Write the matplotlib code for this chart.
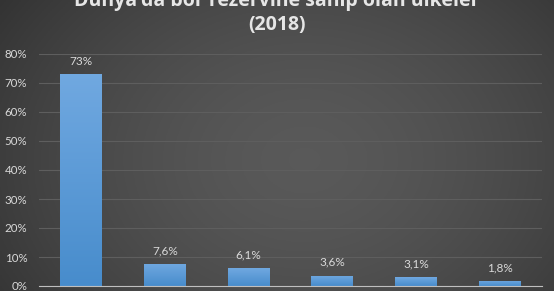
import numpy as np
import matplotlib
matplotlib.use('Agg')
import matplotlib.pyplot as plt

# veriler
ulkeler = ['Türkiye', 'Rusya', 'ABD', 'Çin', 'Şili', 'Peru']
oranlar = [0.73, 0.076, 0.061, 0.036, 0.031, 0.018]
etiketler = ['73%', '7,6%', '6,1%', '3,6%', '3,1%', '1,8%']
yticks = [0, 0.1, 0.2, 0.3, 0.4, 0.5, 0.6, 0.7, 0.8]
baslik1 = "Dünya'da bor rezervine sahip olan ülkeler"
baslik2 = "(2018)"

fig = plt.figure(figsize=(5.54, 2.91), dpi=100)

# arka plan gradyan
bg = fig.add_axes([0, 0, 1, 1], zorder=-10)
xx, yy = np.meshgrid(np.linspace(0, 1, 300), np.linspace(0, 1, 160))
r = np.sqrt(((xx - 0.55) / 0.75) ** 2 + ((yy - 0.45) / 1.1) ** 2)
g = 0.35 - 0.18 * np.clip(r, 0, 1) ** 1.6
img = np.dstack([g, g, g])
bg.imshow(img, aspect='auto', extent=[0, 1, 0, 1], origin='lower')
bg.axis('off')

ax = fig.add_axes([39 / 554, 5 / 291, 503 / 554, 232 / 291])
ax.patch.set_alpha(0)
x = np.arange(len(ulkeler))
bars = ax.bar(x, oranlar, width=0.5, color='#5b9bd5', zorder=3)

# cubuklara dikey gradyan
grad = np.linspace(0, 1, 100).reshape(-1, 1)
top = np.array([0.44, 0.66, 0.88])
bot = np.array([0.28, 0.55, 0.80])
gimg = bot + (top - bot) * grad[:, :, None]
for b in bars:
    x0, y0 = b.get_x(), b.get_y()
    im = ax.imshow(gimg, aspect='auto', origin='lower',
                   extent=[x0, x0 + b.get_width(), y0, y0 + b.get_height()],
                   zorder=4)
    im.set_clip_path(b)

for xi, v, lab in zip(x, oranlar, etiketler):
    ax.annotate(lab, (xi, v), xytext=(0, 5.5), textcoords='offset points',
                ha='center', va='bottom', color='#d9d9d9', fontsize=8.5,
                family='Lato')

ax.set_xlim(-0.5, len(ulkeler) - 0.5)
ax.set_ylim(0, 0.8)
ax.set_yticks(yticks)
ax.set_yticklabels(['{:.0f}%'.format(t * 100) for t in yticks])
ax.set_xticks(x)
ax.tick_params(axis='x', length=0, labelbottom=False)
ax.tick_params(axis='y', length=0, pad=8.5, colors='#d9d9d9', labelsize=8.3)
for t in ax.get_yticklabels():
    t.set_family('Lato')
ax.grid(axis='y', color='#5e5e5e', linewidth=0.8, zorder=0)
for s in ['top', 'right', 'left']:
    ax.spines[s].set_visible(False)
ax.spines['bottom'].set_color('#bfbfbf')
ax.spines['bottom'].set_linewidth(0.8)
ax.spines['bottom'].set_zorder(5)

fig.text(0.5, 1 - 1 / 291, baslik1, ha='center', va='center', color='#e6e6e6',
         fontsize=14, fontweight='bold', family='Open Sans')
fig.text(0.5, 1 - 25 / 291, baslik2, ha='center', va='center', color='#e6e6e6',
         fontsize=14, fontweight='bold', family='Open Sans')

fig.savefig('out.png', dpi=100)
